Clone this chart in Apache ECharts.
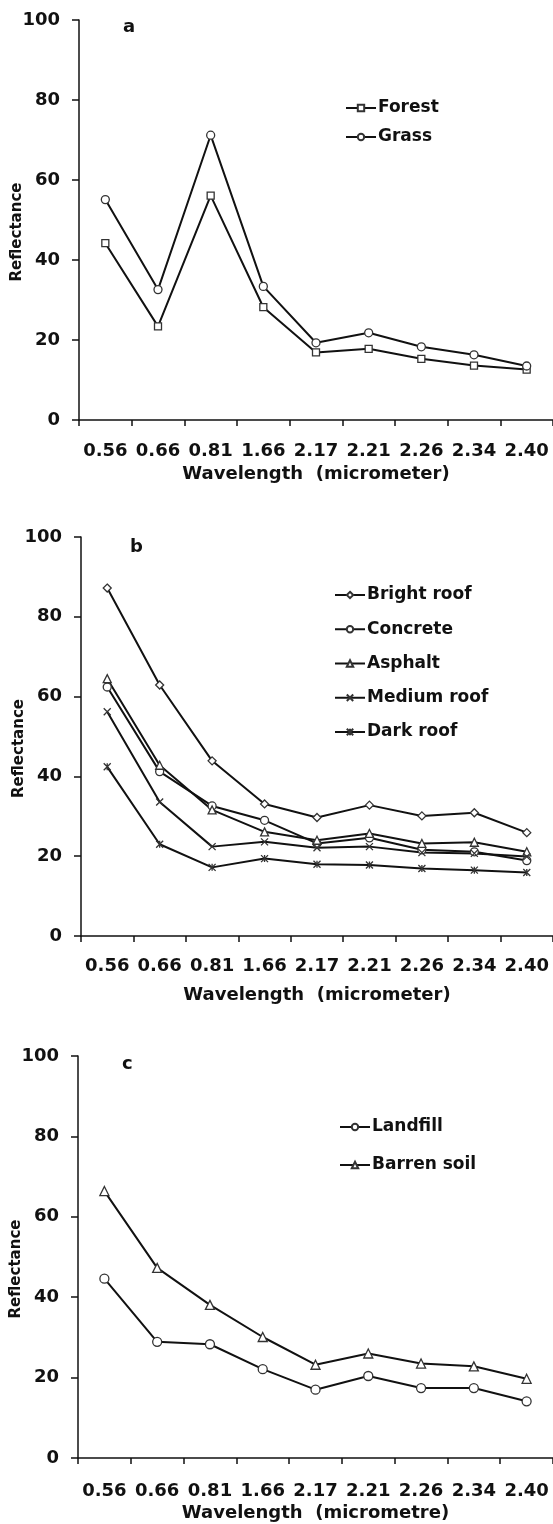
<!DOCTYPE html>
<html>
<head>
<meta charset="utf-8">
<script src="https://cdn.jsdelivr.net/npm/echarts@6/dist/echarts.min.js"></script>
<style>
  html, body { margin: 0; padding: 0; background: #fff; }
  #chart { width: 553px; height: 1524px; }
</style>
</head>
<body>
<div id="chart"></div>
<script>
// data
var categories = ['0.56', '0.66', '0.81', '1.66', '2.17', '2.21', '2.26', '2.34', '2.40'];
var yTicks = [0, 20, 40, 60, 80, 100];

var forest = [44.2, 23.4, 56.1, 28.2, 16.9, 17.8, 15.3, 13.6, 12.6];
var grass = [55.1, 32.6, 71.2, 33.4, 19.3, 21.8, 18.3, 16.3, 13.5];

var brightRoof = [87.2, 62.9, 43.9, 33.1, 29.7, 32.8, 30.1, 30.9, 25.9];
var concrete = [62.4, 41.2, 32.6, 29.0, 23.2, 24.6, 21.6, 21.1, 18.9];
var asphalt = [64.5, 42.8, 31.6, 26.1, 24.0, 25.7, 23.2, 23.5, 21.1];
var mediumRoof = [56.2, 33.6, 22.4, 23.6, 22.1, 22.4, 20.9, 20.7, 19.9];
var darkRoof = [42.4, 23.0, 17.2, 19.4, 18.0, 17.8, 16.9, 16.5, 15.9];

var landfill = [44.6, 28.9, 28.3, 22.1, 17.0, 20.4, 17.4, 17.4, 14.1];
var barrenSoil = [66.4, 47.3, 38.1, 30.1, 23.2, 26.0, 23.5, 22.8, 19.7];

var ink = '#111';
var font = 'DejaVu Sans';
var xSymbol = 'path://M0,0L10,10M10,0L0,10';
var starSymbol = 'path://M0,0L10,10M10,0L0,10M5,0L5,10';

var myChart = echarts.init(document.getElementById('chart'));

function xAxisFor(idx, nameGap, labelMargin, name) {
  return {
    type: 'category',
    gridIndex: idx,
    data: categories,
    boundaryGap: true,
    name: name,
    nameLocation: 'middle',
    nameGap: nameGap,
    nameMoveOverlap: false,
    nameTextStyle: { fontFamily: font, fontWeight: 'bold', fontSize: 18, color: ink },
    axisLine: { lineStyle: { color: ink, width: 1.5 } },
    axisTick: { show: true, length: 6, lineStyle: { color: ink, width: 1.5 } },
    axisLabel: {
      margin: labelMargin,
      interval: 0,
      fontFamily: font,
      fontWeight: 'bold',
      fontSize: 18,
      color: ink
    },
    splitLine: { show: false }
  };
}

function yAxisFor(idx) {
  return {
    type: 'value',
    gridIndex: idx,
    min: yTicks[0],
    max: yTicks[yTicks.length - 1],
    interval: 20,
    name: 'Reflectance',
    nameLocation: 'middle',
    nameGap: 54,
    nameMoveOverlap: false,
    nameTextStyle: {
      fontFamily: font, fontWeight: 'bold', fontSize: 15, color: ink,
      padding: [0, 24, 0, 0]
    },
    axisLine: { show: true, lineStyle: { color: ink, width: 1.5 } },
    axisTick: { show: true, length: 7, lineStyle: { color: ink, width: 1.5 } },
    axisLabel: {
      margin: 19,
      fontFamily: font,
      fontWeight: 'bold',
      fontSize: 18,
      color: ink
    },
    splitLine: { show: false }
  };
}

function line(name, data, idx, symbol, size) {
  return {
    name: name,
    type: 'line',
    xAxisIndex: idx,
    yAxisIndex: idx,
    data: data,
    symbol: symbol,
    symbolSize: size || 7,
    showSymbol: true,
    lineStyle: { color: ink, width: 2 },
    itemStyle: { color: '#fff', borderColor: '#333', borderWidth: 1.3 },
    emphasis: { disabled: true },
    z: 3
  };
}

function legendFor(names, left, top, gap) {
  return {
    data: names,
    orient: 'vertical',
    left: left,
    top: top,
    itemGap: gap,
    itemWidth: 30,
    itemHeight: 8,
    textStyle: {
      fontFamily: font, fontWeight: 'bold', fontSize: 17, color: ink,
      lineHeight: 20, padding: [0, 0, 0, -3]
    },
    selectedMode: false
  };
}

function letter(text, left, top) {
  return {
    text: text,
    left: left,
    top: top,
    textStyle: { fontFamily: font, fontWeight: 'bold', fontSize: 18, color: ink }
  };
}

option = {
  backgroundColor: '#fff',
  animation: false,
  title: [
    letter('a', 118, 13),
    letter('b', 125, 533),
    letter('c', 117, 1050)
  ],
  legend: [
    legendFor(['Forest', 'Grass'], 340, 93, 9),
    legendFor(['Bright roof', 'Concrete', 'Asphalt', 'Medium roof', 'Dark roof'], 329, 580, 14.25),
    legendFor(['Landfill', 'Barren soil'], 334, 1112, 18)
  ],
  grid: [
    { left: 79, top: 20, right: 0, height: 400, outerBoundsMode: 'none', containLabel: false },
    { left: 81, top: 537, right: 0, height: 399, outerBoundsMode: 'none', containLabel: false },
    { left: 78, top: 1056, right: 0, height: 402, outerBoundsMode: 'none', containLabel: false }
  ],
  xAxis: [
    xAxisFor(0, 45, 22, 'Wavelength  (micrometer)'),
    xAxisFor(1, 50, 21, 'Wavelength  (micrometer)'),
    xAxisFor(2, 46, 24, 'Wavelength  (micrometre)')
  ],
  yAxis: [yAxisFor(0), yAxisFor(1), yAxisFor(2)],
  series: [
    line('Forest', forest, 0, 'rect', 7),
    line('Grass', grass, 0, 'circle', 8),
    line('Bright roof', brightRoof, 1, 'diamond', 8),
    line('Concrete', concrete, 1, 'circle', 8),
    line('Asphalt', asphalt, 1, 'triangle', 8),
    line('Medium roof', mediumRoof, 1, xSymbol, 7),
    line('Dark roof', darkRoof, 1, starSymbol, 7),
    line('Landfill', landfill, 2, 'circle', 9),
    line('Barren soil', barrenSoil, 2, 'triangle', 9)
  ]
};

myChart.setOption(option);
</script>
</body>
</html>
